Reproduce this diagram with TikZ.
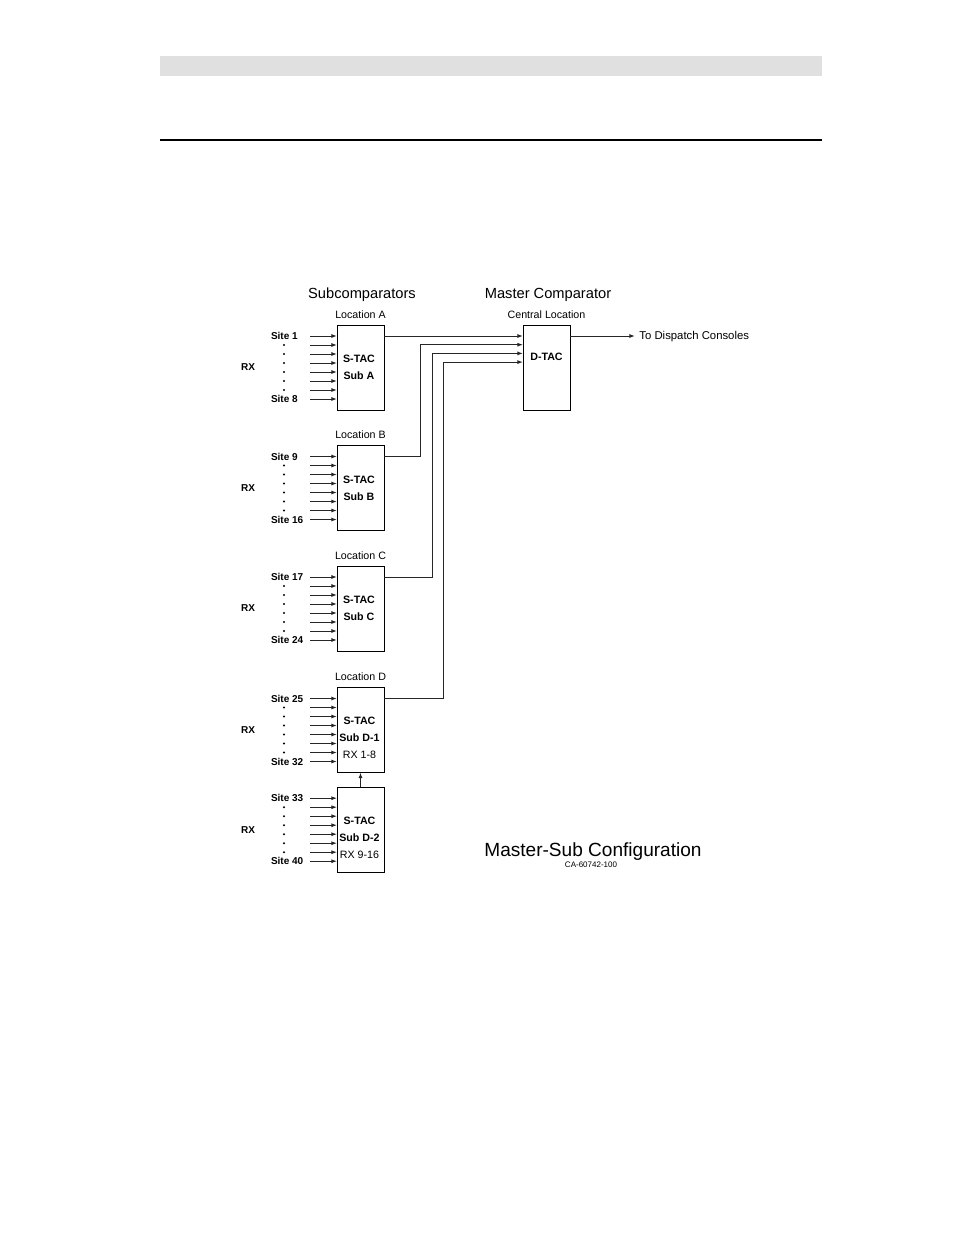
\documentclass[tikz,border=0pt]{standalone}
\usepackage{fontspec}
\setmainfont{Liberation Sans}
\usetikzlibrary{calc,positioning,arrows.meta}
\newcommand{\makeports}[4]{
    \foreach \k in {1, ..., #4}
    {
        \pgfmathsetmacro{\dist}{11 + (\k-1) * #3}
        \coordinate (#1 \k) at ($(#2)+(0,\dist)$);
    }
}
\newcommand{\siteinputs}[3]{
    \makeports{#1 in}{#1.north west}{9}{8}
    % arrows from the receiver sites
    \foreach \i in {1, ..., 8} {
        \coordinate (#1 site \i) at ($(#1 in \i)+(-27,0)$);
        \draw [wire,->] (#1 site \i) -- (#1 in \i);
    }
    \foreach \i in {2, ..., 7} {
        \fill ($(#1 in \i)+(-53,0)$) circle (1.1);
    }
    \node[site,anchor=west] (#1 first) at ($(#1 in 1)+(-66,0)$) {Site #2};
    \node[site,anchor=west] (#1 last) at ($(#1 in 8)+(-66,0)$) {Site #3};
    \node[site] (#1 rx) at ($(#1.west)+(-89,0)$) {RX};
}

\begin{document}
\begin{tikzpicture}[x=0.75pt,y=-0.75pt,every node/.style={outer sep=0pt},>={Latex[length=4.2pt,width=3pt]}]
\useasboundingbox (0,0) rectangle (954,1235);

\tikzstyle{wire}=[black!85,line width=0.75pt]
\tikzstyle{box}=[draw,line width=0.75pt,minimum width=35.25pt,minimum height=63.75pt,inner sep=0pt]
\tikzstyle{boxtext}=[align=center,font=\bfseries\fontsize{8}{12.75}\selectfont,inner sep=0pt]
\tikzstyle{loc}=[font=\fontsize{8}{9.6}\selectfont]
\tikzstyle{site}=[font=\bfseries\fontsize{7.5}{9}\selectfont,inner sep=0pt]
\tikzstyle{head}=[font=\fontsize{11}{13}\selectfont]

% page header
\fill[black!12] (160,56) rectangle (822,76);
\draw[line width=1.1pt] (160,140) -- (822,140);

\node[head] (subhead) at (362,295) {Subcomparators};
\node[head] (masterhead) at (548,295) {Master Comparator};

% subcomparators
\node (subA) [box] at (360.5,367.5) {};
\node (subB) [box] at (360.5,488) {};
\node (subC) [box] at (360.5,608.5) {};
\node (subD1) [box] at (360.5,730) {};
\node (subD2) [box] at (360.5,829.7) {};
\node (dtac) [box] at (546.5,367.5) {};

\node[loc,above=1.5pt of subA] (locA) {Location A};
\node[loc,above=1.5pt of subB] (locB) {Location B};
\node[loc,above=1.5pt of subC] (locC) {Location C};
\node[loc,above=1.5pt of subD1] (locD) {Location D};
\node[loc,above=1.5pt of dtac] (central) {Central Location};

\node[boxtext] (subA text) at ($(subA)+(-1.5,0)$) {S-TAC\\Sub A};
\node[boxtext] (subB text) at ($(subB)+(-1.5,0)$) {S-TAC\\Sub B};
\node[boxtext] (subC text) at ($(subC)+(-1.5,0)$) {S-TAC\\Sub C};
\node[boxtext] (subD1 text) at ($(subD1)+(-1,8)$) {S-TAC\\Sub D-1\\\mdseries RX 1-8};
\node[boxtext] (subD2 text) at ($(subD2)+(-1,8)$) {S-TAC\\Sub D-2\\\mdseries RX 9-16};
\node[boxtext] (dtac text) at ($(dtac.north)+(0,32)$) {D-TAC};

\siteinputs{subA}{1}{8}
\siteinputs{subB}{9}{16}
\siteinputs{subC}{17}{24}
\siteinputs{subD1}{25}{32}
\siteinputs{subD2}{33}{40}

\draw[wire,->] (subD2.north) -- (subD1.south);

% links to the master comparator
\makeports{dtac in}{dtac.north west}{8.7}{4}
\coordinate (bus B) at ($(dtac in 2)+(-102.5,0)$);
\coordinate (bus C) at ($(dtac in 3)+(-91,0)$);
\coordinate (bus D) at ($(dtac in 4)+(-80,0)$);
\draw[wire,->] (subA.east |- subA in 1) -- (dtac in 1);
\draw[wire,->] (subB.east |- subB in 1) -| (bus B) -- (dtac in 2);
\draw[wire,->] (subC.east |- subC in 1) -| (bus C) -- (dtac in 3);
\draw[wire,->] (subD1.east |- subD1 in 1) -| (bus D) -- (dtac in 4);

\coordinate (consoles) at ($(dtac.east |- dtac in 1)+(65,0)$);
\draw[wire,->] (dtac.east |- dtac in 1) -- (consoles);
\node[loc,anchor=west,font=\fontsize{8.5}{10}\selectfont] (consoles text) at ($(consoles)+(0,1)$) {To Dispatch Consoles};

\node[font=\fontsize{14.3}{17}\selectfont] (config) at (593,852) {Master-Sub Configuration};
\node[font=\fontsize{6}{7}\selectfont] (drawing no) at (591,865) {CA-60742-100};
\end{tikzpicture}
\end{document}
